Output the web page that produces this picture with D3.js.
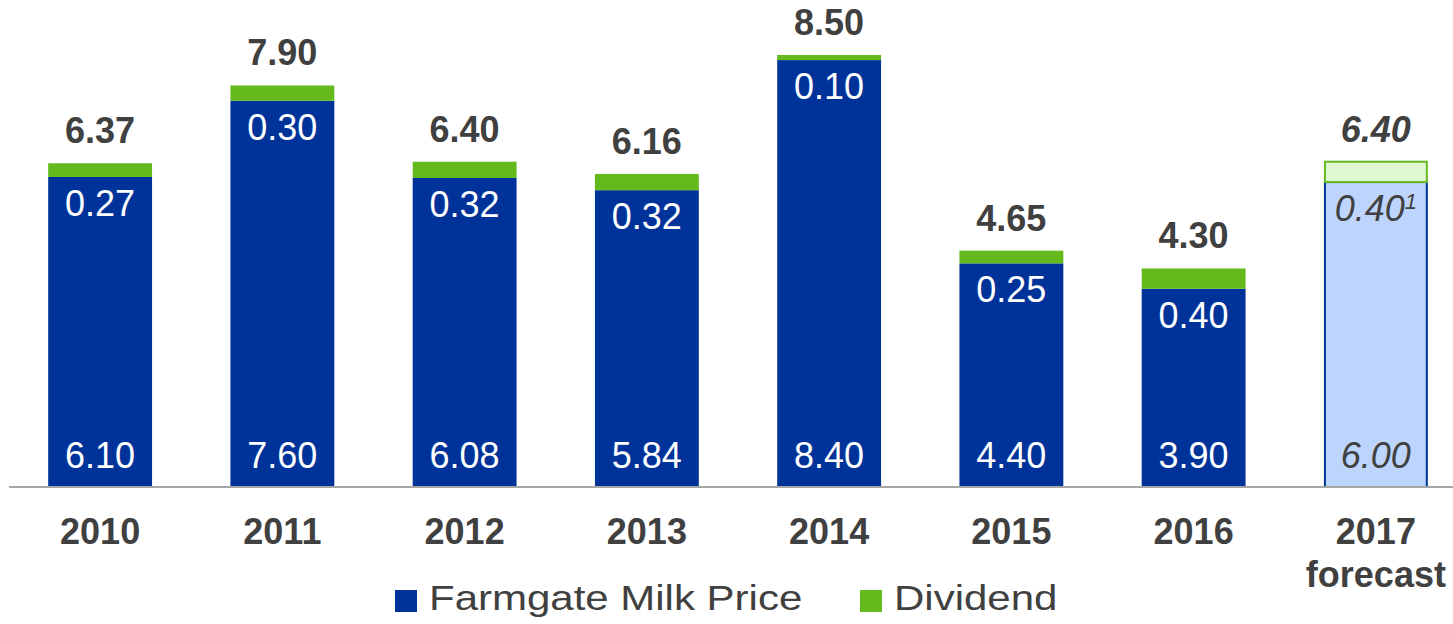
<!DOCTYPE html>
<html>
<head>
<meta charset="utf-8">
<script src="https://cdn.jsdelivr.net/npm/d3@7"></script>
<style>
  body { margin: 0; background: #fff; }
  svg text { font-family: "Liberation Sans", Arial, sans-serif; fill: #404040; }
</style>
</head>
<body>
<svg id="chart" width="1453" height="624"></svg>
<script>
// data
var years = ["2010", "2011", "2012", "2013", "2014", "2015", "2016", "2017"];
var milkPrice = [6.10, 7.60, 6.08, 5.84, 8.40, 4.40, 3.90, 6.00];
var dividend = [0.27, 0.30, 0.32, 0.32, 0.10, 0.25, 0.40, 0.40];
var totals = [6.37, 7.90, 6.40, 6.16, 8.50, 4.65, 4.30, 6.40];
var forecastYear = "2017";
var legendLabels = ["Farmgate Milk Price", "Dividend"];

var svg = d3.select("#chart");

var blue = "#003399",
    green = "#64b91c",
    lightBlue = "#bdd5fc",
    lightGreen = "#dff7d3";

var x = d3.scaleBand()
    .domain(years)
    .range([9, 1467])
    .paddingInner(0.43)
    .paddingOuter(0.215);

var y = d3.scaleLinear()
    .domain([0, 8.5])
    .range([487, 55]);

var rows = years.map(function(yr, i) {
    return { year: yr, milk: milkPrice[i], div: dividend[i], total: totals[i], fc: yr === forecastYear };
});

var g = svg.append("g");

// milk price segment
g.selectAll("rect.milk")
    .data(rows)
    .enter().append("rect")
    .attr("class", "milk")
    .attr("x", function(d) { return x(d.year) + (d.fc ? 1 : 0); })
    .attr("width", function(d) { return x.bandwidth() - (d.fc ? 2 : 0); })
    .attr("y", function(d) { return y(d.milk); })
    .attr("height", function(d) { return y(0) - y(d.milk); })
    .attr("fill", function(d) { return d.fc ? lightBlue : blue; })
    .attr("stroke", function(d) { return d.fc ? blue : "none"; })
    .attr("stroke-width", 2);

// dividend segment
g.selectAll("rect.div")
    .data(rows)
    .enter().append("rect")
    .attr("class", "div")
    .attr("x", function(d) { return x(d.year) + (d.fc ? 1 : 0); })
    .attr("width", function(d) { return x.bandwidth() - (d.fc ? 2 : 0); })
    .attr("y", function(d) { return y(d.milk + d.div); })
    .attr("height", function(d) { return y(d.milk) - y(d.milk + d.div); })
    .attr("fill", function(d) { return d.fc ? lightGreen : green; })
    .attr("stroke", function(d) { return d.fc ? green : "none"; })
    .attr("stroke-width", 2);

// baseline
g.append("line")
    .attr("x1", 9).attr("x2", 1453)
    .attr("y1", y(0)).attr("y2", y(0))
    .attr("stroke", "#a6a6a6")
    .attr("stroke-width", 2);

var cx = function(d) { return x(d.year) + x.bandwidth() / 2; };

// milk price labels at bottom of bars
g.selectAll("text.milk")
    .data(rows)
    .enter().append("text")
    .attr("x", cx)
    .attr("y", y(0) - 19)
    .attr("text-anchor", "middle")
    .style("font-size", "36px")
    .style("font-style", function(d) { return d.fc ? "italic" : "normal"; })
    .style("fill", function(d) { return d.fc ? "#404040" : "#fff"; })
    .text(function(d) { return d.milk.toFixed(2); });

// dividend labels just inside the top of the blue segment
var divText = g.selectAll("text.div")
    .data(rows)
    .enter().append("text")
    .attr("x", cx)
    .attr("y", function(d) { return y(d.milk) + 39; })
    .attr("text-anchor", "middle")
    .style("font-size", "36px")
    .style("font-style", function(d) { return d.fc ? "italic" : "normal"; })
    .style("fill", function(d) { return d.fc ? "#404040" : "#fff"; });

divText.append("tspan")
    .text(function(d) { return d.div.toFixed(2); });
divText.filter(function(d) { return d.fc; })
    .append("tspan")
    .attr("dy", -12)
    .style("font-size", "22px")
    .text("1");

// totals above bars
g.selectAll("text.total")
    .data(rows)
    .enter().append("text")
    .attr("x", cx)
    .attr("y", function(d) { return y(d.total) - 20; })
    .attr("text-anchor", "middle")
    .style("font-size", "36px")
    .style("font-weight", "bold")
    .style("font-style", function(d) { return d.fc ? "italic" : "normal"; })
    .text(function(d) { return d.total.toFixed(2); });

// year labels
var yl = g.selectAll("text.year")
    .data(rows)
    .enter().append("text")
    .attr("x", cx)
    .attr("y", 544)
    .attr("text-anchor", "middle")
    .style("font-size", "36px")
    .style("font-weight", "bold");
yl.append("tspan").text(function(d) { return d.year; });
yl.filter(function(d) { return d.fc; })
    .append("tspan")
    .attr("x", cx)
    .attr("dy", 43)
    .text("forecast");

// legend (text in the original is stretched horizontally)
var legend = svg.append("g");
var legendItems = [
    { label: legendLabels[0], color: blue, x: 395 },
    { label: legendLabels[1], color: green, x: 860 }
];
var li = legend.selectAll("g")
    .data(legendItems)
    .enter().append("g")
    .attr("transform", function(d) { return "translate(" + d.x + ",0)"; });
li.append("rect")
    .attr("y", 590)
    .attr("width", 22)
    .attr("height", 22)
    .attr("fill", function(d) { return d.color; });
li.append("text")
    .attr("transform", "translate(34,610) scale(1.2,1)")
    .style("font-size", "35px")
    .text(function(d) { return d.label; });
</script>
</body>
</html>
